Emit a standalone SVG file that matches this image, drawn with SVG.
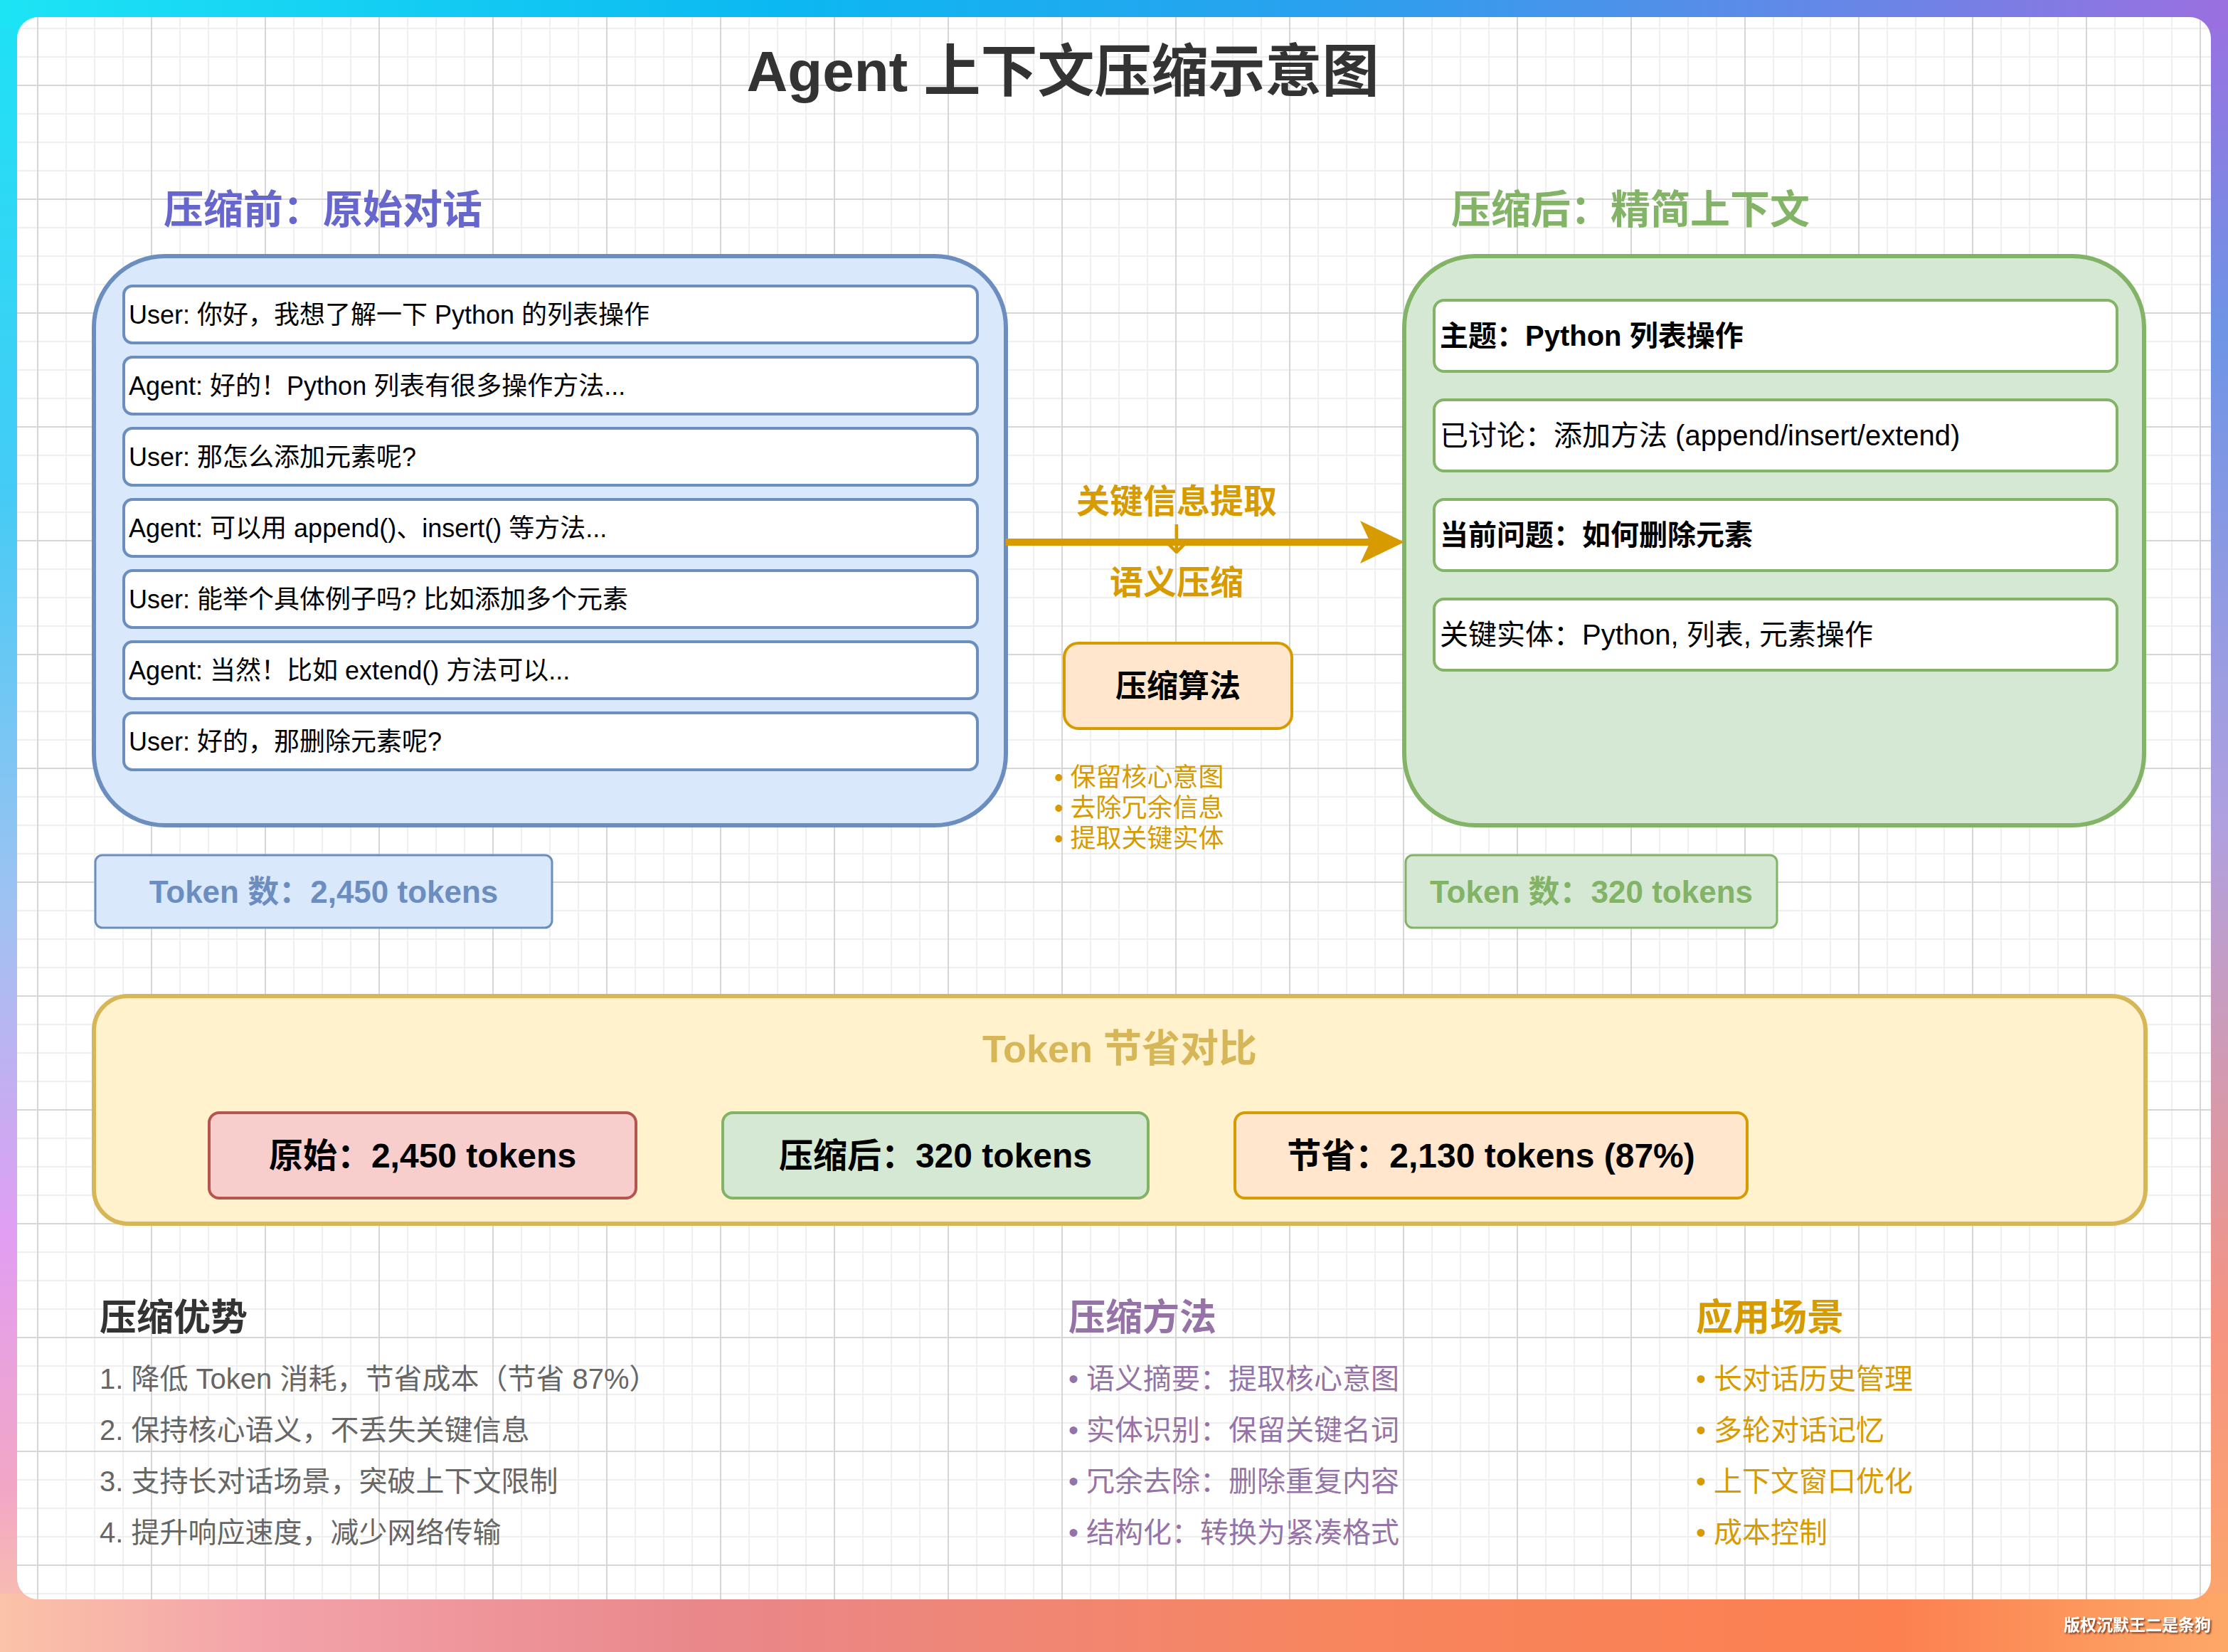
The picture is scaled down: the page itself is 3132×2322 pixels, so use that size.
<svg xmlns="http://www.w3.org/2000/svg" width="3132" height="2322" viewBox="0 0 3132 2322">
<defs>
  <linearGradient id="gTop" x1="0" y1="0" x2="1" y2="0">
    <stop offset="0" stop-color="#1de4f5"/>
    <stop offset="0.35" stop-color="#0cb8f1"/>
    <stop offset="0.6" stop-color="#2ba0ee"/>
    <stop offset="0.85" stop-color="#6c84e6"/>
    <stop offset="1" stop-color="#9b6fe0"/>
  </linearGradient>
  <linearGradient id="gLeft" x1="0" y1="0" x2="0" y2="1">
    <stop offset="0" stop-color="#1de2f5"/>
    <stop offset="0.3" stop-color="#45cbf5"/>
    <stop offset="0.55" stop-color="#9fc2f2"/>
    <stop offset="0.75" stop-color="#e29ef2"/>
    <stop offset="0.9" stop-color="#f2a6c6"/>
    <stop offset="1" stop-color="#fbc6a8"/>
  </linearGradient>
  <linearGradient id="gRight" x1="0" y1="0" x2="0" y2="1">
    <stop offset="0" stop-color="#9b6fe0"/>
    <stop offset="0.2" stop-color="#6e94e6"/>
    <stop offset="0.5" stop-color="#b0a0e0"/>
    <stop offset="0.8" stop-color="#f59482"/>
    <stop offset="1" stop-color="#fda868"/>
  </linearGradient>
  <linearGradient id="gBottom" x1="0" y1="0" x2="1" y2="0">
    <stop offset="0" stop-color="#fbc3a8"/>
    <stop offset="0.12" stop-color="#f3a2aa"/>
    <stop offset="0.32" stop-color="#e9878a"/>
    <stop offset="0.6" stop-color="#f7855e"/>
    <stop offset="0.85" stop-color="#fc8050"/>
    <stop offset="1" stop-color="#fda868"/>
  </linearGradient>
  <pattern id="grid" x="52" y="119" width="160" height="160" patternUnits="userSpaceOnUse">
    <rect x="40" y="0" width="2" height="160" fill="#efefef"/>
    <rect x="80" y="0" width="2" height="160" fill="#efefef"/>
    <rect x="120" y="0" width="2" height="160" fill="#efefef"/>
    <rect x="0" y="40" width="160" height="2" fill="#efefef"/>
    <rect x="0" y="80" width="160" height="2" fill="#efefef"/>
    <rect x="0" y="120" width="160" height="2" fill="#efefef"/>
    <rect x="0" y="0" width="2" height="160" fill="#d6d6d6"/>
    <rect x="0" y="0" width="160" height="2" fill="#d6d6d6"/>
  </pattern>
  <clipPath id="cardClip"><rect x="24" y="24" width="3084" height="2224" rx="30"/></clipPath>
  <marker id="arrowHead" markerUnits="userSpaceOnUse" markerWidth="64" markerHeight="64" refX="18" refY="32" orient="auto">
    <path d="M0,2 L62,32 L0,62 L14,32 Z" fill="#d79b00"/>
  </marker>
  <filter id="wmShadow" x="-10%" y="-50%" width="120%" height="200%">
    <feDropShadow dx="2" dy="2" stdDeviation="1.2" flood-color="#6a2a10" flood-opacity="0.85"/>
  </filter>
</defs>
<style>
  text { font-family: "Liberation Sans", "Noto Sans CJK SC", sans-serif; dominant-baseline: central; }
  .b { font-weight: bold; }
  .msg { fill: #ffffff; stroke: #6c8ebf; stroke-width: 4; }
  .msgT { font-size: 36px; fill: #000000; }
  .ctx { fill: #ffffff; stroke: #82b366; stroke-width: 4; }
  .ctxT { font-size: 40px; fill: #000000; }
  .sec { font-size: 56px; font-weight: bold; }
  .item { font-size: 40px; }
  .hd { font-size: 52px; font-weight: bold; }
  .bul { font-size: 36px; fill: #d79b00; }
  .tok { font-size: 44px; font-weight: bold; text-anchor: middle; }
  .cmp { font-size: 48px; font-weight: bold; text-anchor: middle; fill: #000000; }
  .arr { font-family: "DejaVu Sans", sans-serif; font-size: 56px; }
</style>

<g id="background">
  <rect x="0" y="0" width="3132" height="2322" fill="url(#gBottom)"/>
  <rect x="0" y="0" width="60" height="2322" fill="url(#gLeft)"/>
  <rect x="3072" y="0" width="60" height="2322" fill="url(#gRight)"/>
  <rect x="0" y="0" width="3132" height="40" fill="url(#gTop)"/>
  <rect x="0" y="2240" width="3132" height="82" fill="url(#gBottom)"/>
  <rect x="24" y="24" width="3084" height="2224" rx="30" fill="#ffffff"/>
  <rect x="24" y="24" width="3084" height="2224" fill="url(#grid)" clip-path="url(#cardClip)"/>
</g>

<text id="title" x="1494" y="100" font-size="80" class="b" text-anchor="middle" fill="#333333">Agent 上下文压缩示意图</text>

<text id="before-title" x="230" y="294" class="sec" fill="#6666cc">压缩前：原始对话</text>
<text id="after-title" x="2040" y="294" class="sec" fill="#82b366">压缩后：精简上下文</text>

<g id="original-dialog">
  <rect x="132" y="360" width="1282" height="800" rx="100" fill="#dae8fc" stroke="#6c8ebf" stroke-width="6"/>
  <g id="msg1"><rect class="msg" x="174" y="402" width="1200" height="80" rx="12"/><text class="msgT" x="181" y="442">User: 你好，我想了解一下 Python 的列表操作</text></g>
  <g id="msg2"><rect class="msg" x="174" y="502" width="1200" height="80" rx="12"/><text class="msgT" x="181" y="542">Agent: 好的！Python 列表有很多操作方法...</text></g>
  <g id="msg3"><rect class="msg" x="174" y="602" width="1200" height="80" rx="12"/><text class="msgT" x="181" y="642">User: 那怎么添加元素呢?</text></g>
  <g id="msg4"><rect class="msg" x="174" y="702" width="1200" height="80" rx="12"/><text class="msgT" x="181" y="742">Agent: 可以用 append()、insert() 等方法...</text></g>
  <g id="msg5"><rect class="msg" x="174" y="802" width="1200" height="80" rx="12"/><text class="msgT" x="181" y="842">User: 能举个具体例子吗? 比如添加多个元素</text></g>
  <g id="msg6"><rect class="msg" x="174" y="902" width="1200" height="80" rx="12"/><text class="msgT" x="181" y="942">Agent: 当然！比如 extend() 方法可以...</text></g>
  <g id="msg7"><rect class="msg" x="174" y="1002" width="1200" height="80" rx="12"/><text class="msgT" x="181" y="1042">User: 好的，那删除元素呢?</text></g>
</g>

<g id="compressed-context">
  <rect x="1974" y="360" width="1040" height="800" rx="100" fill="#d5e8d4" stroke="#82b366" stroke-width="6"/>
  <g id="ctx1"><rect class="ctx" x="2016" y="422" width="960" height="100" rx="14"/><text class="ctxT b" x="2024" y="472">主题：Python 列表操作</text></g>
  <g id="ctx2"><rect class="ctx" x="2016" y="562" width="960" height="100" rx="14"/><text class="ctxT" x="2024" y="612">已讨论：添加方法 (append/insert/extend)</text></g>
  <g id="ctx3"><rect class="ctx" x="2016" y="702" width="960" height="100" rx="14"/><text class="ctxT b" x="2024" y="752">当前问题：如何删除元素</text></g>
  <g id="ctx4"><rect class="ctx" x="2016" y="842" width="960" height="100" rx="14"/><text class="ctxT" x="2024" y="892">关键实体：Python, 列表, 元素操作</text></g>
</g>

<g id="connectors">
  <line x1="1414" y1="762" x2="1930" y2="762" stroke="#d79b00" stroke-width="10" marker-end="url(#arrowHead)"/>
  <text x="1654" y="704" font-size="47" class="b" text-anchor="middle" fill="#d79b00">关键信息提取</text>
  <text class="arr" x="1654" y="758" text-anchor="middle" fill="#d79b00">↓</text>
  <text x="1654" y="818" font-size="47" class="b" text-anchor="middle" fill="#d79b00">语义压缩</text>
</g>

<g id="algorithm">
  <rect x="1496" y="904" width="320" height="120" rx="20" fill="#ffe6cc" stroke="#d79b00" stroke-width="4"/>
  <text x="1656" y="964" font-size="44" class="b" text-anchor="middle" fill="#000000">压缩算法</text>
</g>
<g id="algorithm-notes">
  <text class="bul" x="1482" y="1092">• 保留核心意图</text>
  <text class="bul" x="1482" y="1135">• 去除冗余信息</text>
  <text class="bul" x="1482" y="1178">• 提取关键实体</text>
</g>

<g id="token-before">
  <rect x="134" y="1202" width="642" height="102" rx="10" fill="#dae8fc" stroke="#6c8ebf" stroke-width="3"/>
  <text class="tok" x="455" y="1253" fill="#6c8ebf">Token 数：2,450 tokens</text>
</g>
<g id="token-after">
  <rect x="1976" y="1202" width="522" height="102" rx="10" fill="#d5e8d4" stroke="#82b366" stroke-width="3"/>
  <text class="tok" x="2237" y="1253" fill="#82b366">Token 数：320 tokens</text>
</g>

<g id="token-compare">
  <rect x="132" y="1400" width="2884" height="320" rx="48" fill="#fff2cc" stroke="#d6b656" stroke-width="6"/>
  <text x="1574" y="1474" font-size="54" class="b" text-anchor="middle" fill="#d6b656">Token 节省对比</text>
  <g id="cmp-original"><rect x="294" y="1564" width="600" height="120" rx="14" fill="#f8cecc" stroke="#b85450" stroke-width="4"/><text class="cmp" x="594" y="1624">原始：2,450 tokens</text></g>
  <g id="cmp-compressed"><rect x="1016" y="1564" width="598" height="120" rx="14" fill="#d5e8d4" stroke="#82b366" stroke-width="4"/><text class="cmp" x="1315" y="1624">压缩后：320 tokens</text></g>
  <g id="cmp-saved"><rect x="1736" y="1564" width="720" height="120" rx="14" fill="#ffe6cc" stroke="#d79b00" stroke-width="4"/><text class="cmp" x="2096" y="1624">节省：2,130 tokens (87%)</text></g>
</g>

<g id="advantages">
  <text class="hd" x="140" y="1852" fill="#333333">压缩优势</text>
  <text class="item" x="140" y="1938" fill="#666666">1. 降低 Token 消耗，节省成本（节省 87%）</text>
  <text class="item" x="140" y="2010" fill="#666666">2. 保持核心语义，不丢失关键信息</text>
  <text class="item" x="140" y="2082" fill="#666666">3. 支持长对话场景，突破上下文限制</text>
  <text class="item" x="140" y="2154" fill="#666666">4. 提升响应速度，减少网络传输</text>
</g>
<g id="methods">
  <text class="hd" x="1502" y="1852" fill="#9673a6">压缩方法</text>
  <text class="item" x="1502" y="1938" fill="#9673a6">• 语义摘要：提取核心意图</text>
  <text class="item" x="1502" y="2010" fill="#9673a6">• 实体识别：保留关键名词</text>
  <text class="item" x="1502" y="2082" fill="#9673a6">• 冗余去除：删除重复内容</text>
  <text class="item" x="1502" y="2154" fill="#9673a6">• 结构化：转换为紧凑格式</text>
</g>
<g id="scenarios">
  <text class="hd" x="2384" y="1852" fill="#d79b00">应用场景</text>
  <text class="item" x="2384" y="1938" fill="#d79b00">• 长对话历史管理</text>
  <text class="item" x="2384" y="2010" fill="#d79b00">• 多轮对话记忆</text>
  <text class="item" x="2384" y="2082" fill="#d79b00">• 上下文窗口优化</text>
  <text class="item" x="2384" y="2154" fill="#d79b00">• 成本控制</text>
</g>

<text id="watermark" x="3108" y="2284" font-size="23" class="b" text-anchor="end" fill="#ffffff" filter="url(#wmShadow)">版权沉默王二是条狗</text>
</svg>
